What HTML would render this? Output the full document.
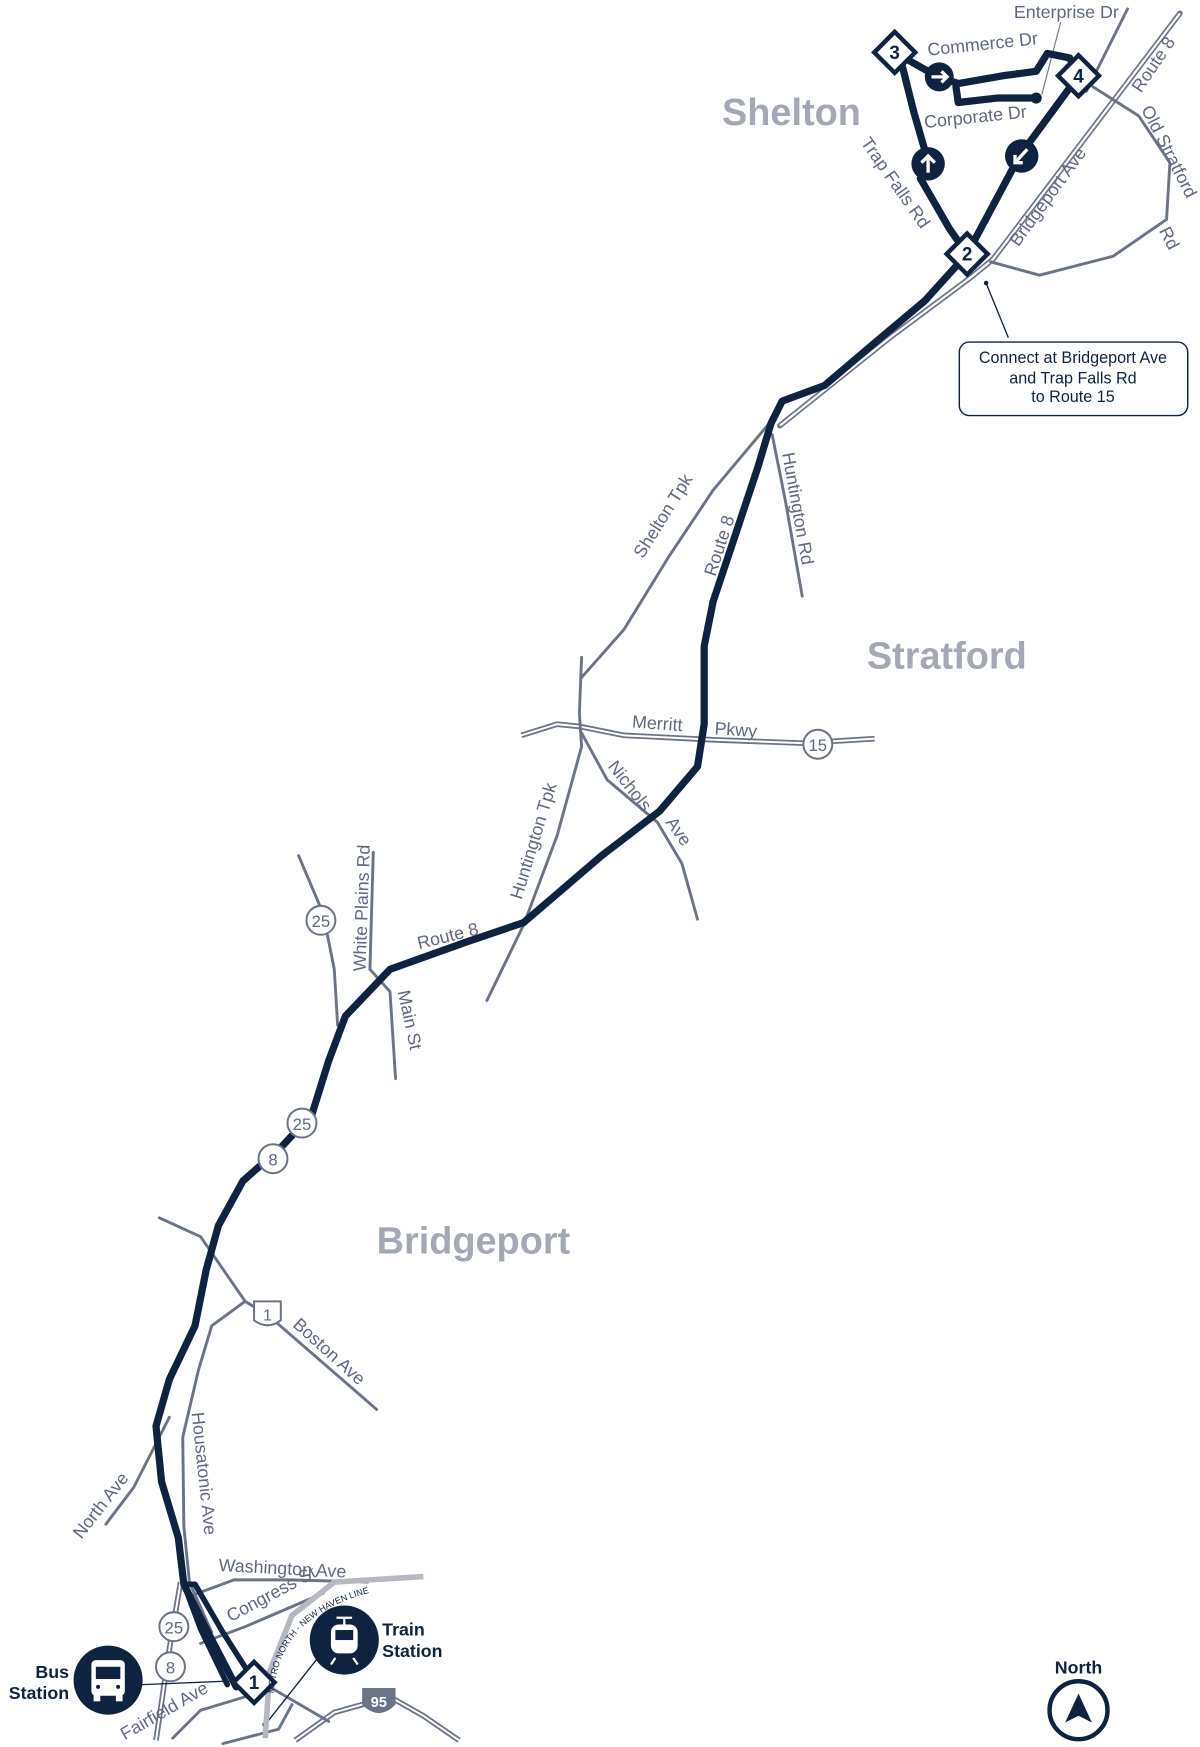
<!DOCTYPE html>
<html><head><meta charset="utf-8"><style>
html,body{margin:0;padding:0;background:#fff;}
svg{display:block}
text{font-family:"Liberation Sans",sans-serif;}
.r{fill:none;stroke:#6b7387;stroke-width:2.6;stroke-linecap:round;stroke-linejoin:round}
.lb{fill:#5f6880;font-size:16px}
.rt{fill:none;stroke:#0f2340;stroke-width:6.5;stroke-linecap:round;stroke-linejoin:round}
.town{fill:#a3a8b4;font-size:34px;font-weight:bold}
.sh{fill:#fff;stroke:#6b7387;stroke-width:1.8}
.st{fill:#5f6880;font-size:15px;text-anchor:middle}
</style></head><body>
<svg width="1200" height="1747" viewBox="0 0 1077 1568" xmlns="http://www.w3.org/2000/svg">
<defs><path id="mn" d="M246,1520 Q250,1440 360,1424"/></defs>
<!-- Route 8 highway double line -->
<path d="M1059,12 L891,233 L870,250 L800,302 L740,350 L700,382" fill="none" stroke="#6b7387" stroke-width="5" stroke-linecap="round"/>
<path d="M1059,12 L891,233 L870,250 L800,302 L740,350 L700,382" fill="none" stroke="#fff" stroke-width="2"/>
<!-- Merritt Pkwy -->
<path d="M468,660 L500,650 L520,652 L560,660 L640,664 L720,667 L785,663" fill="none" stroke="#6b7387" stroke-width="5"/>
<path d="M468,660 L500,650 L520,652 L560,660 L640,664 L720,667 L785,663" fill="none" stroke="#fff" stroke-width="1.8"/>
<!-- I-95 -->
<path d="M265,1562 L300,1537 L350,1523 L380,1540 L412,1562" fill="none" stroke="#6b7387" stroke-width="5"/>
<path d="M265,1562 L300,1537 L350,1523 L380,1540 L412,1562" fill="none" stroke="#fff" stroke-width="1.8"/>
<!-- 25/8 double -->
<path d="M162,1420 L152,1480 L140,1562" fill="none" stroke="#6b7387" stroke-width="5"/>
<path d="M162,1420 L152,1480 L140,1562" fill="none" stroke="#fff" stroke-width="1.8"/>
<!-- roads -->
<path class="r" d="M1012,8 L975,82"/>
<path d="M952,20 L935,85" stroke="#6b7387" stroke-width="1" fill="none"/>
<path class="r" d="M981,78 L1022,104 L1050,146 L1047,197 L999,230 L933,247 L889,235"/>
<path class="r" d="M692,378 L640,440 L600,500 L560,565 L522,608"/>
<path class="r" d="M522,590 L520,640 L522,670 L500,750 L470,830 L437,898"/>
<path class="r" d="M693,390 L705,450 L720,535"/>
<path class="r" d="M522,658 L545,700 L590,738 L612,775 L626,825"/>
<path class="r" d="M335,765 L332,870 L350,890 L355,968"/>
<path class="r" d="M268,768 L290,820 L300,870 L303,920"/>
<path class="r" d="M143,1093 L180,1110 L220,1168 L240,1180 L338,1265"/>
<path class="r" d="M220,1168 L190,1190 L178,1230 L164,1290 L165,1370 L170,1420 L190,1465"/>
<path class="r" d="M95,1368 L120,1335 L152,1272"/>
<path class="r" d="M172,1432 L210,1418 L260,1418 L330,1420"/>
<path class="r" d="M180,1475 L220,1460 L290,1430"/>
<path class="r" d="M155,1560 L180,1535 L230,1520"/>
<path class="r" d="M200,1565 L250,1552 L262,1530"/>
<path class="r" d="M235,1510 L295,1545"/>
<path class="r" d="M128,1512 L225,1508" style="stroke-width:1.2;stroke:#0f2340"/>
<path d="M238,1548 L290,1482" stroke="#0f2340" stroke-width="1.2" fill="none"/>
<circle cx="238" cy="1548" r="2.5" fill="#0f2340"/>
<!-- railway -->
<path d="M380,1415 L300,1420 L262,1450 L242,1500 L238,1560" fill="none" stroke="#b5b8c2" stroke-width="5"/>
<!-- callout leader -->
<path d="M885,254 L905,303" stroke="#0f2340" stroke-width="1.2"/>
<circle cx="885" cy="254" r="2" fill="#0f2340"/>
<!-- main route -->
<path class="rt" d="M868,228 L830,270 L780,312 L740,346 L702,360 L692,380 L680,420 L660,480 L640,540 L632,580 L632,650 L626,688 L592,728 L540,768 L470,828 L420,845 L350,870 L310,912 L295,952 L280,1000 L252,1030 L218,1060 L196,1100 L185,1140 L175,1190 L152,1238 L140,1280 L145,1330 L160,1380 L165,1422 L185,1462 L212,1514"/>
<path class="rt" d="M165,1422 L175,1422 L200,1465 L230,1512" style="stroke-width:5"/>
<path class="rt" d="M165,1422 L180,1462 L204,1512" style="stroke-width:5"/>
<!-- Shelton loop -->
<path class="rt" d="M868,228 L915,140 L968,68"/>
<path class="rt" d="M868,228 L852,205 L826,160 L833,145 L820,100 L808,52"/>
<path class="rt" d="M803,47 L840,68 L860,75 L900,68 L930,64 L940,48 L960,52 L968,68"/>
<path class="rt" d="M858,78 L860,92 L895,88 L930,88"/>
<circle cx="930" cy="88" r="5" fill="#0f2340"/>
<circle cx="843" cy="69" r="13" fill="#0f2340"/>
<path d="M836,69 L850,69 M845,64 L850,69 L845,74" stroke="#fff" stroke-width="3" fill="none"/>
<circle cx="833" cy="147" r="15" fill="#0f2340"/>
<path d="M833,155 L833,140 M827,146 L833,140 L839,146" stroke="#fff" stroke-width="3" fill="none"/>
<circle cx="917" cy="140" r="15" fill="#0f2340"/>
<path d="M922,134 L911,146 M911,139 L911,146 L918,146" stroke="#fff" stroke-width="3" fill="none"/>
<!-- diamonds -->
<g font-weight="bold" font-size="17" text-anchor="middle" fill="#0f2340">
<g transform="translate(803,47) rotate(45)"><rect x="-13" y="-13" width="26" height="26" fill="#fff" stroke="#0f2340" stroke-width="4"/></g><text x="803" y="53">3</text>
<g transform="translate(968,68) rotate(45)"><rect x="-13" y="-13" width="26" height="26" fill="#fff" stroke="#0f2340" stroke-width="4"/></g><text x="968" y="74">4</text>
<g transform="translate(868,228) rotate(45)"><rect x="-13" y="-13" width="26" height="26" fill="#fff" stroke="#0f2340" stroke-width="4"/></g><text x="868" y="234">2</text>
<g transform="translate(228,1510) rotate(45)"><rect x="-13" y="-13" width="26" height="26" fill="#fff" stroke="#0f2340" stroke-width="4"/></g><text x="228" y="1516">1</text>
</g>
<!-- shields -->
<circle class="sh" cx="288" cy="826" r="13"/><text class="st" x="288" y="832">25</text>
<circle class="sh" cx="271" cy="1008" r="13"/><text class="st" x="271" y="1014">25</text>
<circle class="sh" cx="245" cy="1040" r="13"/><text class="st" x="245" y="1046">8</text>
<circle class="sh" cx="734" cy="668" r="13"/><text class="st" x="734" y="674">15</text>
<circle class="sh" cx="156" cy="1460" r="13"/><text class="st" x="156" y="1466">25</text>
<circle class="sh" cx="153" cy="1496" r="13"/><text class="st" x="153" y="1502">8</text>
<path d="M228,1168 L252,1168 L252,1185 Q240,1194 228,1185 Z" fill="#fff" stroke="#6b7387" stroke-width="1.8"/><text class="st" x="240" y="1185" style="font-size:14px">1</text>
<path d="M325,1515 L355,1515 L355,1530 Q340,1545 325,1530 Z" fill="#6b7387"/><text x="340" y="1532" text-anchor="middle" fill="#fff" font-size="13" font-weight="bold">95</text>
<!-- town labels -->
<text class="town" x="648" y="112">Shelton</text>
<text class="town" x="778" y="600">Stratford</text>
<text class="town" x="338" y="1125">Bridgeport</text>
<!-- road labels -->
<text class="lb" x="910" y="16" font-size="15">Enterprise Dr</text>
<text class="lb" transform="translate(833,50) rotate(-6)">Commerce Dr</text>
<text class="lb" transform="translate(830,115) rotate(-6)" font-size="15">Corporate Dr</text>
<text class="lb" transform="translate(772,128) rotate(55)">Trap Falls Rd</text>
<text class="lb" transform="translate(914,222) rotate(-54)">Bridgeport Ave</text>
<text class="lb" transform="translate(1024,84) rotate(-56)">Route 8</text>
<text class="lb" transform="translate(1024,98) rotate(63)">Old Stratford</text>
<text class="lb" transform="translate(1040,207) rotate(63)">Rd</text>
<text class="lb" transform="translate(577,502) rotate(-58)">Shelton Tpk</text>
<text class="lb" transform="translate(642,518) rotate(-72)">Route 8</text>
<text class="lb" transform="translate(702,407) rotate(80)">Huntington Rd</text>
<text class="lb" x="567" y="653" transform="rotate(4 567 653)">Merritt</text>
<text class="lb" x="641" y="659" transform="rotate(4 641 659)">Pkwy</text>
<text class="lb" transform="translate(545,688) rotate(52)">Nichols</text>
<text class="lb" transform="translate(597,738) rotate(55)">Ave</text>
<text class="lb" transform="translate(468,808) rotate(-73)">Huntington Tpk</text>
<text class="lb" transform="translate(376,852) rotate(-14)">Route 8</text>
<text class="lb" transform="translate(328,872) rotate(-88)">White Plains Rd</text>
<text class="lb" transform="translate(357,890) rotate(78)">Main St</text>
<text class="lb" transform="translate(262,1190) rotate(42)">Boston Ave</text>
<text class="lb" transform="translate(172,1268) rotate(84)">Housatonic Ave</text>
<text class="lb" transform="translate(73,1382) rotate(-52)">North Ave</text>
<text class="lb" transform="translate(196,1410) rotate(3)">Washington Ave</text>
<text class="lb" transform="translate(207,1456) rotate(-28)">Congress St</text>
<text class="lb" transform="translate(112,1562) rotate(-30)" font-size="15">Fairfield Ave</text>
<text fill="#0f2340" font-size="8"><textPath href="#mn">METRO NORTH - NEW HAVEN LINE</textPath></text>
<!-- callout -->
<rect x="861" y="307" width="205" height="66" rx="9" fill="#fff" stroke="#0f2340" stroke-width="1.3"/>
<g font-family="'Liberation Sans Narrow','Liberation Sans',sans-serif" font-size="14.5" fill="#0f2340" text-anchor="middle">
<text x="963" y="326">Connect at Bridgeport Ave</text>
<text x="963" y="344">and Trap Falls Rd</text>
<text x="963" y="361">to Route 15</text>
</g>
<!-- Bus station -->
<circle cx="97" cy="1508" r="31" fill="#0f2340"/>
<rect x="82" y="1490" width="30" height="32" rx="4" fill="#fff"/>
<rect x="86" y="1496" width="22" height="11" fill="#0f2340"/>
<rect x="84" y="1521" width="6" height="6" fill="#fff"/><rect x="104" y="1521" width="6" height="6" fill="#fff"/>
<circle cx="88" cy="1514" r="1.8" fill="#0f2340"/><circle cx="106" cy="1514" r="1.8" fill="#0f2340"/>
<text x="62" y="1506" text-anchor="end" fill="#0f2340" font-size="16" font-weight="bold">Bus</text>
<text x="62" y="1525" text-anchor="end" fill="#0f2340" font-size="16" font-weight="bold">Station</text>
<!-- Train station -->
<circle cx="309" cy="1472" r="31" fill="#0f2340"/>
<rect x="297" y="1458" width="24" height="26" rx="7" fill="#fff"/>
<rect x="301" y="1463" width="16" height="9" fill="#0f2340"/>
<path d="M301,1488 L297,1494 M317,1488 L321,1494 M302,1452 L316,1452 M309,1452 L309,1458" stroke="#fff" stroke-width="2"/>
<text x="343" y="1468" fill="#0f2340" font-size="16" font-weight="bold">Train</text>
<text x="343" y="1487" fill="#0f2340" font-size="16" font-weight="bold">Station</text>
<!-- North -->
<text x="968" y="1502" text-anchor="middle" fill="#0f2340" font-size="16" font-weight="bold">North</text>
<circle cx="968" cy="1535" r="26" fill="#fff" stroke="#0f2340" stroke-width="4"/>
<path d="M968,1520 L980,1546 L968,1540 L956,1546 Z" fill="#0f2340"/>
</svg>
</body></html>
